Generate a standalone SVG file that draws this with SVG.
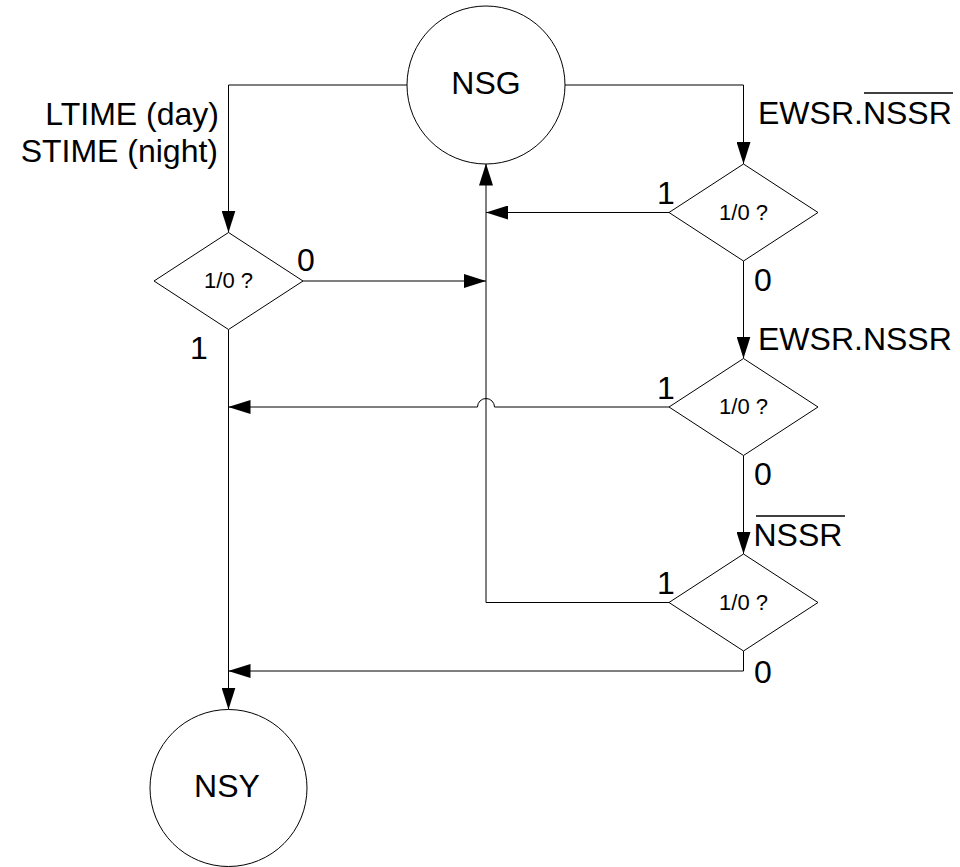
<svg xmlns="http://www.w3.org/2000/svg" width="960" height="867" viewBox="0 0 960 867">
<style>
.shape{fill:#fff;stroke:#000;stroke-width:1}
.conn{fill:none;stroke:#000;stroke-width:1}
.lbl{font-family:"Liberation Sans",Arial,sans-serif;font-size:32px;fill:#000}
.dtx{font-family:"Liberation Sans",Arial,sans-serif;font-size:22px;fill:#000;text-anchor:middle}
.big{font-family:"Liberation Sans",Arial,sans-serif;font-size:32px;fill:#000;text-anchor:middle}
.ovl{stroke:#000;stroke-width:1.3}
</style>
<defs>
<marker id="arr" markerUnits="userSpaceOnUse" markerWidth="22" markerHeight="14" refX="22" refY="7" orient="auto">
<path d="M0,0 L22,7 L0,14 z" fill="#000"/>
</marker>
</defs>
<rect width="960" height="867" fill="#fff"/>
<g id="connectors">
<path class="conn" d="M407,85 H228.5 V232.5" marker-end="url(#arr)"/>
<path class="conn" d="M565,85 H743.5 V164" marker-end="url(#arr)"/>
<path class="conn" d="M303,281 H486" marker-end="url(#arr)"/>
<path class="conn" d="M669,212.5 H486" marker-end="url(#arr)"/>
<path class="conn" d="M743.5,261 V358.5" marker-end="url(#arr)"/>
<path class="conn" d="M669,407 H494.5 A8.5,8.5 0 0 0 477.5,407 H228.5" marker-end="url(#arr)"/>
<path class="conn" d="M743.5,455.5 V554" marker-end="url(#arr)"/>
<path class="conn" d="M669,602.5 H486 V163.5" marker-end="url(#arr)"/>
<path class="conn" d="M743.5,651 V671 H228.5" marker-end="url(#arr)"/>
<path class="conn" d="M228.5,329.5 V709.5" marker-end="url(#arr)"/>
</g>
<g id="NSG">
<circle class="shape" cx="486" cy="85" r="79"/>
<text class="big" x="486" y="94">NSG</text>
</g>
<g id="NSY">
<circle class="shape" cx="228.5" cy="788" r="78.5"/>
<text class="big" x="227" y="797">NSY</text>
</g>
<g id="D0">
<polygon class="shape" points="228.5,232.5 303,281 228.5,329.5 154,281"/>
<text class="dtx" x="228.5" y="288">1/0 ?</text>
</g>
<g id="D1">
<polygon class="shape" points="743.5,164 818,212.5 743.5,261 669,212.5"/>
<text class="dtx" x="743.5" y="220">1/0 ?</text>
</g>
<g id="D2">
<polygon class="shape" points="743.5,358.5 818,407 743.5,455.5 669,407"/>
<text class="dtx" x="743.5" y="414">1/0 ?</text>
</g>
<g id="D3">
<polygon class="shape" points="743.5,554 818,602.5 743.5,651 669,602.5"/>
<text class="dtx" x="743.5" y="610">1/0 ?</text>
</g>
<g id="labels">
<text class="lbl" x="219" y="125" text-anchor="end">LTIME (day)</text>
<text class="lbl" x="218" y="162" text-anchor="end">STIME (night)</text>
<text class="lbl" x="758" y="124">EWSR.NSSR</text>
<line class="ovl" x1="864" y1="93" x2="953" y2="93"/>
<text class="lbl" x="657" y="204">1</text>
<text class="lbl" x="754" y="291">0</text>
<text class="lbl" x="758" y="350">EWSR.NSSR</text>
<text class="lbl" x="657" y="399">1</text>
<text class="lbl" x="754" y="485">0</text>
<text class="lbl" x="753.5" y="546">NSSR</text>
<line class="ovl" x1="756" y1="516" x2="845" y2="516"/>
<text class="lbl" x="657" y="594">1</text>
<text class="lbl" x="754" y="683">0</text>
<text class="lbl" x="297" y="271">0</text>
<text class="lbl" x="190" y="359">1</text>
</g>
</svg>
